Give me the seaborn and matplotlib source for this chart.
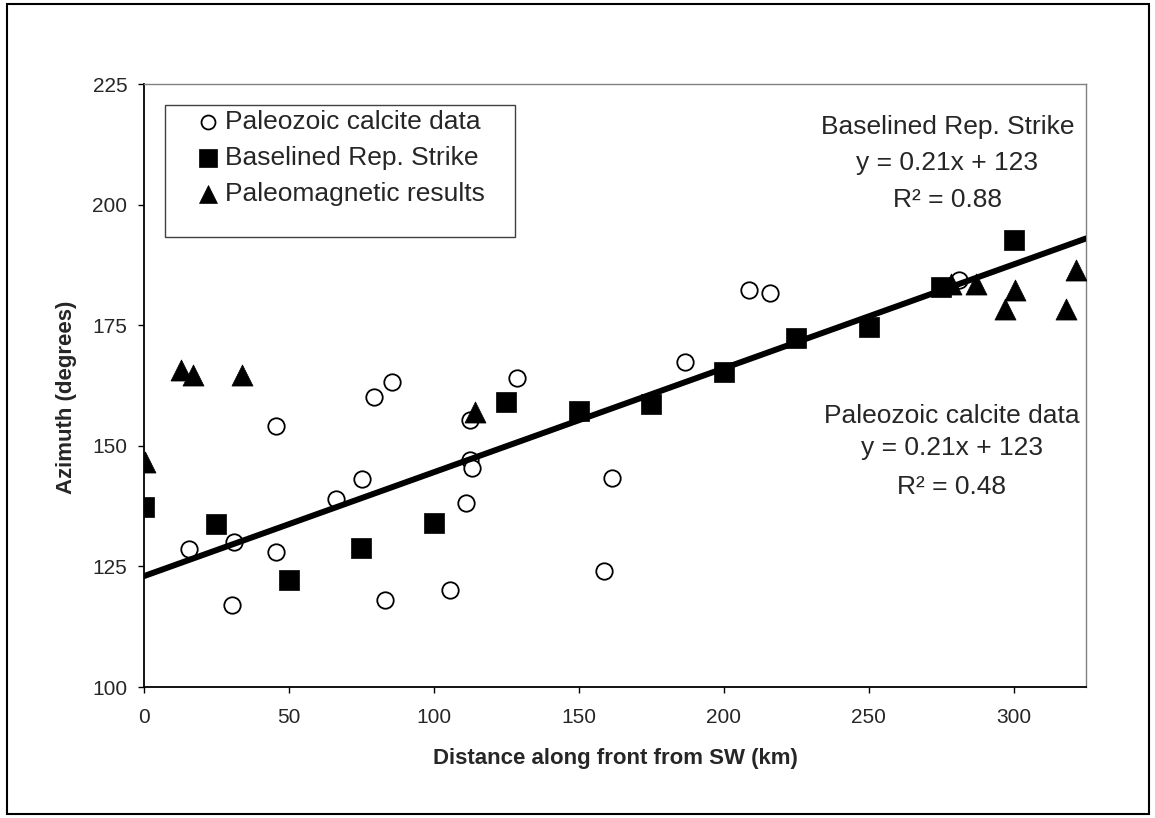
import numpy as np
import pandas as pd
import matplotlib
matplotlib.use('Agg')
import matplotlib.pyplot as plt
from matplotlib.patches import Rectangle
import seaborn as sns

# Paleozoic calcite data (open circles)
calcite_x = [15.6, 30.2, 31.0, 45.4, 45.4, 66.2, 75.1, 79.4, 83.3, 85.6, 105.5,
             111.2, 112.5, 112.5, 113.3, 128.8, 158.6, 161.5, 186.8, 208.6, 215.9, 281.0]
calcite_y = [128.7, 117.1, 130.1, 154.1, 127.9, 138.9, 143.1, 160.1, 118.0, 163.2, 120.2,
             138.2, 155.3, 147.0, 145.4, 164.1, 124.0, 143.4, 167.3, 182.3, 181.6, 184.3]

# Baselined representative strike (filled squares)
strike_x = [0, 25, 50, 75, 100, 125, 150, 175, 200, 225, 250, 275, 300]
strike_y = [137.3, 133.8, 122.2, 128.9, 134.0, 159.1, 157.2, 158.6, 165.3, 172.3, 174.6, 182.9, 192.7]

# Paleomagnetic results (filled triangles)
paleomag_x = [0.3, 12.8, 17.0, 33.7, 114.1, 278.5, 287.1, 296.9, 300.6, 318.2, 321.6]
paleomag_y = [146.6, 165.7, 164.6, 164.6, 157.0, 183.6, 183.6, 178.4, 182.4, 178.4, 186.4]

x_ticks = [0, 50, 100, 150, 200, 250, 300]
y_ticks = [100, 125, 150, 175, 200, 225]

strike_fit = ['Baselined Rep. Strike', 'y = 0.21x + 123', 'R\u00b2 = 0.88']
calcite_fit = ['Paleozoic calcite data', 'y = 0.21x + 123', 'R\u00b2 = 0.48']

sns.set_theme(style='white')
plt.rcParams['font.family'] = ['Liberation Sans', 'DejaVu Sans']

fig = plt.figure(figsize=(11.55, 8.18), dpi=100)
ax = fig.add_axes([0.1247, 0.1601, 0.8156, 0.7372])
ax.set_xlim(0, 325)
ax.set_ylim(100, 225)

sns.scatterplot(x=calcite_x, y=calcite_y, ax=ax, marker='o', s=140, color='white',
                edgecolor='black', linewidth=1.3, label='Paleozoic calcite data', zorder=3)
sns.scatterplot(x=strike_x, y=strike_y, ax=ax, marker='s', s=215, color='black',
                edgecolor='black', linewidth=0.5, label='Baselined Rep. Strike', zorder=5)
sns.scatterplot(x=paleomag_x, y=paleomag_y, ax=ax, marker='^', s=230, color='black',
                edgecolor='black', linewidth=0.5, label='Paleomagnetic results', zorder=6)

# linear trend of the strike data across the whole axis
sns.regplot(x=strike_x, y=strike_y, ax=ax, scatter=False, ci=None, truncate=False,
            line_kws=dict(color='black', lw=4.3, zorder=4))
ax.set_xlim(0, 325)
ax.set_ylim(100, 225)

ax.set_xticks(x_ticks)
ax.set_yticks(y_ticks)
ax.tick_params(axis='both', which='major', direction='out', length=4, width=1,
               color='black', labelsize=15, bottom=True, left=True)
ax.tick_params(axis='x', pad=11)
ax.tick_params(axis='y', pad=8)

ax.set_xlabel('Distance along front from SW (km)', fontsize=16, fontweight='bold')
ax.set_ylabel('Azimuth (degrees)', fontsize=16, fontweight='bold')
ax.xaxis.set_label_coords(0.5, -0.118)
ax.xaxis.label.set_va('center')
ax.yaxis.set_label_coords(-0.082, 0.48)
ax.yaxis.label.set_va('center')

for side in ['left', 'bottom']:
    ax.spines[side].set_color('black')
    ax.spines[side].set_linewidth(1.3)
for side in ['top', 'right']:
    ax.spines[side].set_color('#808080')
    ax.spines[side].set_linewidth(1.0)

# fit annotations
for yv, s in zip([216.0, 208.7, 200.9], strike_fit):
    ax.text(277.2, yv, s, ha='center', va='center', fontsize=19)
for yv, s in zip([156.1, 149.5, 141.4], calcite_fit):
    ax.text(278.6, yv, s, ha='center', va='center', fontsize=19)

# legend
leg = ax.legend(loc='upper left', bbox_to_anchor=(0.054, 0.957), frameon=False,
                fontsize=19, handlelength=1.0, handletextpad=0.15, labelspacing=0.45,
                borderpad=0, borderaxespad=0, markerscale=0.85)
ax.add_patch(Rectangle((0.0223, 0.746), 0.3715, 0.219, transform=ax.transAxes,
                       fill=False, edgecolor='#404040', lw=1.0, zorder=7))

# outer chart border
fig.patches.append(Rectangle((0.006, 0.005), 0.989, 0.99, transform=fig.transFigure,
                             fill=False, edgecolor='black', lw=1.5))

fig.savefig('out.png', dpi=100, facecolor='white')
